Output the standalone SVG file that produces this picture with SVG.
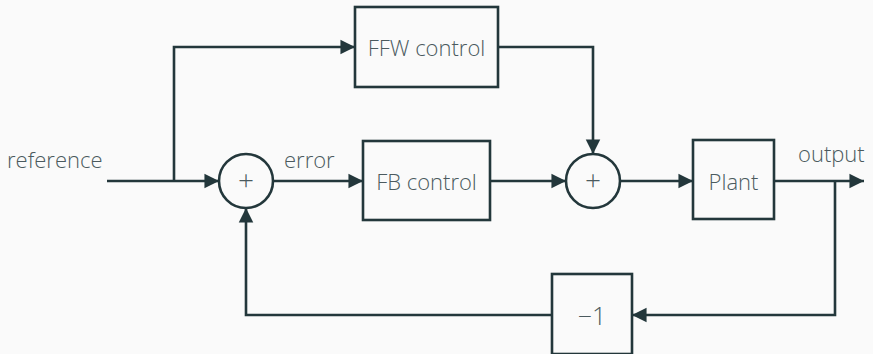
<svg xmlns="http://www.w3.org/2000/svg" width="873" height="354" viewBox="0 0 873 354">
  <defs>
    <marker id="arrow" viewBox="0 0 10 10" refX="10" refY="5" markerWidth="5.6" markerHeight="6" markerUnits="strokeWidth" orient="auto">
      <path d="M0,0 L10,5 L0,10 Z" fill="#23373b"/>
    </marker>
  </defs>
  <style>
    .blk { fill: none; stroke: #23373b; stroke-width: 2.6; }
    .wire { fill: none; stroke: #23373b; stroke-width: 2.6; }
    .arr { marker-end: url(#arrow); }
    .lbl { font-family: "Open Sans", "DejaVu Sans", sans-serif; font-weight: 300; font-size: 22px; fill: #4b5a5e; }
    .mid { text-anchor: middle; dominant-baseline: central; }
    .op { font-size: 28px; font-weight: 200; }
    .gainlbl { font-size: 25px; }
  </style>
  <rect width="873" height="354" fill="#fafafa"/>

  <g id="connectors">
    <!-- reference input to first summing junction -->
    <path class="wire arr" d="M107,181 H219"/>
    <!-- feedforward branch -->
    <path class="wire arr" d="M174,181 V47 H355"/>
    <path class="wire arr" d="M498,47 H593 V154"/>
    <!-- error to FB control -->
    <path class="wire arr" d="M273,181 H363"/>
    <!-- FB control to second summing junction -->
    <path class="wire arr" d="M490,181 H566"/>
    <!-- sum to plant -->
    <path class="wire arr" d="M619,181 H693"/>
    <!-- plant output -->
    <path class="wire arr" d="M774,181 H864"/>
    <!-- feedback path -->
    <path class="wire arr" d="M835,181 V315 H632"/>
    <path class="wire arr" d="M552,315 H246 V208"/>
  </g>

  <g id="sum1">
    <circle class="blk" cx="246" cy="181" r="27"/>
    <text class="lbl mid op" x="246" y="179">+</text>
  </g>
  <g id="sum2">
    <circle class="blk" cx="593" cy="181" r="27"/>
    <text class="lbl mid op" x="593" y="179">+</text>
  </g>
  <g id="ffw">
    <rect class="blk" x="355" y="7" width="143" height="80"/>
    <text class="lbl mid" x="426.5" y="47">FFW control</text>
  </g>
  <g id="fb">
    <rect class="blk" x="363" y="141" width="127" height="79"/>
    <text class="lbl mid" x="426.5" y="181">FB control</text>
  </g>
  <g id="plant">
    <rect class="blk" x="693" y="140" width="81" height="79"/>
    <text class="lbl mid" x="733.5" y="181">Plant</text>
  </g>
  <g id="gain">
    <rect class="blk" x="552" y="274" width="80" height="80"/>
    <text class="lbl mid gainlbl" x="592" y="315">−1</text>
  </g>

  <g id="labels">
    <text class="lbl" x="7" y="168">reference</text>
    <text class="lbl" x="284" y="168">error</text>
    <text class="lbl" x="798" y="162">output</text>
  </g>
</svg>
